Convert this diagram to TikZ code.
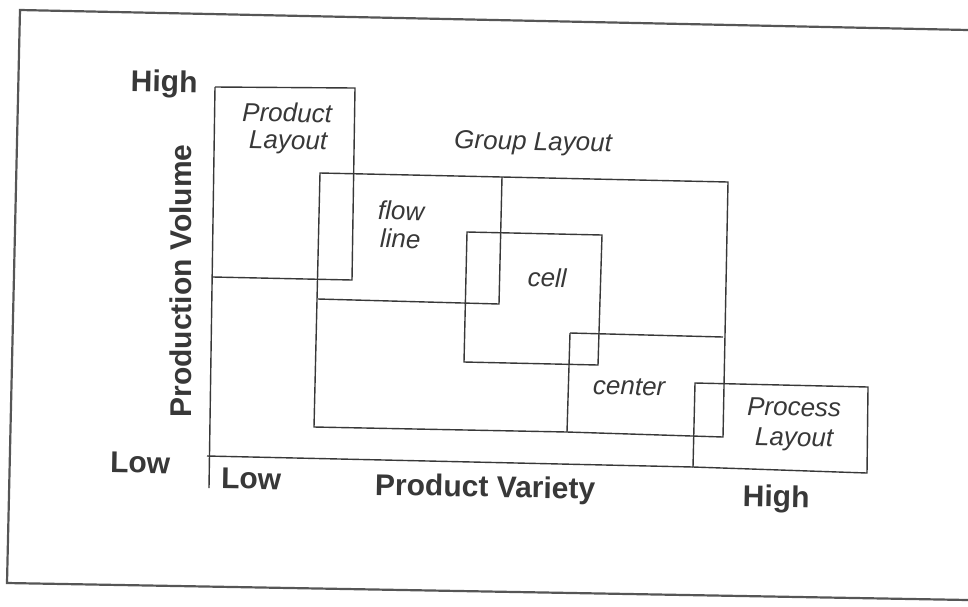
\documentclass[tikz,border=0pt]{standalone}
\usepackage{fontspec}
\setmainfont{Liberation Sans}
\definecolor{ink}{HTML}{383838}
\tikzset{
  boxline/.style={draw=ink, line width=1.4pt, line join=miter},
  framebox/.style={draw=ink!85, line width=2.2pt},
  axislabel/.style={text=ink, font=\fontsize{30}{32}\selectfont\bfseries, anchor=base, inner sep=0pt},
  zonelabel/.style={text=ink, font=\fontsize{26}{28}\selectfont\itshape, anchor=base, inner sep=0pt, rotate=-1},
  tilt/.style={rotate=-1}
}
\begin{document}
\begin{tikzpicture}[x=1pt,y=-1pt]
\useasboundingbox (0,0) rectangle (968,606);
% outer frame (scanned page border)
\draw[framebox] (968,30) -- (20,10) -- (7,583) -- (968,600);
% axes
\coordinate (vtop) at (215,87);
\coordinate (vbot) at (209,488);
\coordinate (hleft) at (207,456);
\coordinate (hright) at (693,467);
\draw[boxline] (vtop) -- (vbot);
\draw[boxline] (hleft) -- (hright);
% Product Layout box
\draw[boxline] (vtop) -- (355,88) -- (352,280) -- (213,277);
% Group layout box with flow line and center
\draw[boxline] (320,173) -- (502,177) -- (728,182) -- (723,437) -- (567,432) -- (314,427) -- cycle;
\draw[boxline] (502,177) -- (499,304) -- (318,299);
\draw[boxline] (570,333) -- (723,337);
\draw[boxline] (570,333) -- (567,432);
% cell box
\draw[boxline] (467,232) -- (602,235) -- (598,365) -- (464,362) -- cycle;
% Process layout box
\draw[boxline] (695,383) -- (868,387) -- (867,473) -- (693,467) -- cycle;
% axis labels
\node[axislabel, tilt] (yhigh) at (164,92) {High};
\node[axislabel, tilt] (ylow) at (140,473) {Low};
\node[axislabel, tilt] (xlow) at (251,489) {Low};
\node[axislabel, tilt] (xtitle) at (485,497) {Product Variety};
\node[axislabel, tilt] (xhigh) at (776,507) {High};
\node[axislabel, rotate=90] (ytitle) at (191,281) {Production Volume};
% zone labels
\node[zonelabel] (prod1) at (287,122) {Product};
\node[zonelabel] (prod2) at (288,149) {Layout};
\node[zonelabel] (group) at (533,150) {Group Layout};
\node[zonelabel] (flow1) at (401,220) {flow};
\node[zonelabel] (flow2) at (400,248) {line};
\node[zonelabel] (cell) at (547,287) {cell};
\node[zonelabel] (center) at (629,395) {center};
\node[zonelabel] (proc1) at (794,416) {Process};
\node[zonelabel] (proc2) at (794,446) {Layout};
\end{tikzpicture}
\end{document}
